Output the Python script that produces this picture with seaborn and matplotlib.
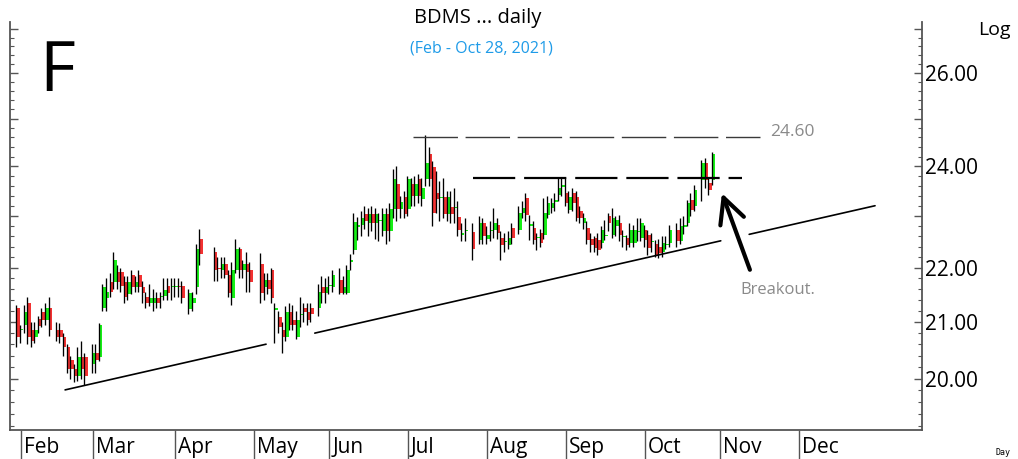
import numpy as np
import pandas as pd
import matplotlib
matplotlib.use('Agg')
import matplotlib.pyplot as plt
import matplotlib.transforms as mtransforms
import seaborn as sns

sns.set_style('white')
plt.rcParams['font.family'] = ['Open Sans', 'DejaVu Sans']
plt.rcParams['text.color'] = 'black'
plt.rcParams['ytick.labelcolor'] = 'black'

# SET holidays between Jan 29 and Oct 28, 2021 (empty weekday slots on the chart)
holidays = ['2021-02-12', '2021-02-26', '2021-04-06', '2021-04-13', '2021-04-14',
            '2021-04-15', '2021-05-03', '2021-05-04', '2021-05-26', '2021-06-03',
            '2021-07-26', '2021-07-28', '2021-08-12', '2021-10-13', '2021-10-22']

opens = [21.26, 20.85, 20.95, 21.35, 20.86, 20.73, 21.05, 21.17, 21.04, 21.26,
         20.86, 20.86, 20.73, 20.55, 20.33, 20.16, 20.04, 20.37, 20.37,
         # Mar
         20.25, 20.45, 20.37, 21.26, 21.44, 21.73, 21.73, 21.92, 21.92, 21.73,
         21.50, 21.86, 21.64, 21.86, 21.64, 21.46, 21.35, 21.35, 21.44, 21.45,
         21.48, 21.66, 21.64,
         # Apr
         21.64, 21.64, 21.66, 21.23, 21.35, 21.64, 22.55, 22.29, 22.00, 21.96,
         22.06, 21.86, 21.44, 21.96, 22.36, 21.96, 22.06, 21.96,
         # May
         22.06, 21.64, 21.77, 21.96, 21.22, 21.08, 20.86, 20.73, 21.17, 21.04,
         20.73, 21.13, 21.26, 21.17, 21.26, 21.26, 21.64, 21.53,
         # Jun
         21.66, 21.64, 21.77, 21.53, 21.53, 22.10, 22.34, 22.78, 22.82, 23.04,
         22.85, 23.04, 22.85, 22.90, 22.70, 23.04, 22.70, 23.13, 23.63, 23.13,
         23.38,
         # Jul
         23.13, 23.63, 23.40, 23.73, 23.33, 23.73, 24.25, 23.98, 23.45, 23.35,
         23.37, 23.04, 23.17, 23.15, 22.98, 22.63, 22.70, 22.68, 22.53, 22.85,
         # Aug
         22.55, 22.70, 22.72, 22.82, 22.57, 22.48, 22.43, 22.76, 22.72, 23.06,
         23.36, 22.80, 22.76, 22.56, 22.67, 22.63, 23.02, 23.16, 23.28, 23.42,
         23.58,
         # Sep
         23.46, 23.12, 23.46, 23.38, 23.10, 22.86, 22.76, 22.55, 22.57, 22.53,
         22.47, 22.60, 23.00, 22.63, 22.80, 22.86, 22.58, 22.57, 22.47, 22.47,
         22.68, 22.57,
         # Oct
         22.72, 22.63, 22.48, 22.45, 22.40, 22.30, 22.44, 22.47, 22.72, 22.50,
         22.78, 22.86, 23.32, 23.20, 23.72, 24.07, 23.66, 23.72]

highs = [21.30, 20.95, 21.30, 21.45, 21.00, 21.00, 21.10, 21.25, 21.35, 21.45,
         21.00, 20.98, 20.80, 20.60, 20.40, 20.25, 20.55, 20.65, 20.45,
         20.60, 20.60, 20.98, 21.70, 21.80, 21.90, 22.30, 22.05, 22.00, 21.85,
         21.85, 21.95, 21.85, 21.95, 21.75, 21.55, 21.70, 21.60, 21.55, 21.55,
         21.80, 21.80, 21.80,
         21.80, 21.80, 21.75, 21.60, 21.55, 22.45, 22.75, 22.40, 22.20, 22.20,
         22.20, 21.95, 22.10, 22.55, 22.40, 22.15, 22.30, 22.10,
         22.27, 21.90, 21.90, 22.00, 21.35, 21.20, 21.00, 21.28, 21.35, 21.30,
         21.20, 21.45, 21.35, 21.35, 21.35, 21.70, 21.85, 21.80,
         21.85, 21.95, 22.00, 21.85, 22.05, 22.25, 23.05, 22.98, 23.10, 23.20,
         23.15, 23.20, 23.15, 23.05, 23.15, 23.15, 23.25, 23.95, 24.00, 23.40,
         23.50,
         23.80, 23.75, 23.80, 23.85, 23.75, 24.65, 24.40, 24.10, 23.90, 23.70,
         23.75, 23.50, 23.50, 23.55, 23.30, 22.85, 22.95, 22.85, 23.00, 22.95,
         22.80, 22.90, 23.16, 22.95, 22.70, 22.67, 22.70, 22.86, 23.20, 23.30,
         23.45, 23.02, 22.90, 22.67, 22.75, 23.36, 23.40, 23.36, 23.46, 23.76,
         23.78,
         23.76, 23.50, 23.56, 23.50, 23.20, 23.06, 22.90, 22.67, 22.60, 22.67,
         22.80, 22.92, 23.06, 23.16, 23.00, 23.02, 22.72, 22.63, 22.86, 22.82,
         22.96, 22.96,
         22.82, 22.72, 22.67, 22.53, 22.55, 22.60, 22.60, 22.82, 22.86, 22.96,
         23.00, 23.32, 23.46, 23.62, 24.12, 24.17, 23.76, 24.30]

lows = [20.55, 20.62, 20.80, 20.60, 20.55, 20.62, 20.80, 20.90, 20.95, 20.75,
        20.65, 20.62, 20.40, 20.10, 20.00, 19.95, 19.97, 20.00, 19.90,
        20.10, 20.10, 20.30, 21.20, 21.20, 21.45, 21.60, 21.60, 21.55, 21.35,
        21.40, 21.50, 21.55, 21.55, 21.35, 21.25, 21.28, 21.20, 21.25, 21.25,
        21.40, 21.40, 21.40,
        21.45, 21.45, 21.35, 21.15, 21.20, 21.50, 22.05, 21.75, 21.75, 21.80,
        21.80, 21.45, 21.30, 21.90, 21.80, 21.80, 21.55, 21.55,
        21.35, 21.40, 21.50, 21.35, 20.62, 20.80, 20.45, 20.65, 20.85, 20.85,
        20.70, 20.90, 21.00, 20.95, 21.00, 21.10, 21.35, 21.35,
        21.50, 21.55, 21.50, 21.50, 21.50, 21.95, 22.25, 22.53, 22.60, 22.75,
        22.60, 22.70, 22.55, 22.50, 22.60, 22.45, 22.50, 22.95, 22.90, 22.95,
        22.95,
        23.00, 23.20, 23.20, 23.25, 23.20, 23.60, 23.60, 22.80, 23.05, 22.90,
        22.95, 22.90, 22.85, 22.85, 22.60, 22.50, 22.50, 22.15, 22.45, 22.45,
        22.45, 22.50, 22.57, 22.55, 22.15, 22.30, 22.35, 22.45, 22.65, 22.95,
        22.90, 22.53, 22.45, 22.34, 22.40, 22.55, 22.95, 23.06, 23.10, 23.30,
        23.40,
        23.20, 23.06, 23.10, 22.90, 22.85, 22.75, 22.45, 22.30, 22.30, 22.24,
        22.38, 22.53, 22.70, 22.57, 22.60, 22.50, 22.40, 22.34, 22.40, 22.40,
        22.50, 22.50,
        22.40, 22.24, 22.30, 22.20, 22.18, 22.20, 22.35, 22.40, 22.40, 22.45,
        22.65, 22.80, 23.00, 23.10, 23.30, 23.56, 23.42, 23.62]

closes = [20.73, 20.88, 21.17, 20.73, 20.65, 20.86, 20.93, 21.04, 21.26, 20.86,
          20.73, 20.73, 20.55, 20.16, 20.16, 20.04, 20.37, 20.16, 20.04,
          20.45, 20.33, 20.95, 21.64, 21.55, 21.55, 22.15, 21.73, 21.66, 21.45,
          21.73, 21.64, 21.73, 21.64, 21.53, 21.35, 21.44, 21.44, 21.35, 21.46,
          21.59, 21.53, 21.65,
          21.65, 21.63, 21.44, 21.53, 21.44, 22.36, 22.25, 21.96, 21.98, 22.06,
          21.86, 21.53, 21.96, 22.36, 21.96, 22.06, 21.92, 21.73,
          21.53, 21.77, 21.60, 21.44, 21.26, 20.91, 20.73, 21.17, 20.95, 20.95,
          21.04, 21.15, 21.17, 21.04, 21.15, 21.55, 21.53, 21.64,
          21.68, 21.86, 21.53, 21.64, 21.96, 22.15, 22.87, 22.82, 22.96, 22.90,
          23.04, 22.85, 23.04, 22.92, 23.04, 22.70, 23.13, 23.73, 23.13, 23.27,
          23.04,
          23.73, 23.40, 23.63, 23.40, 23.55, 24.06, 23.73, 23.05, 23.33, 23.37,
          23.04, 23.37, 23.04, 23.17, 22.73, 22.66, 22.72, 22.35, 22.85, 22.60,
          22.63, 22.73, 22.86, 22.67, 22.43, 22.50, 22.57, 22.57, 23.06, 23.16,
          23.02, 22.83, 22.53, 22.58, 22.47, 23.06, 23.26, 23.26, 23.31, 23.56,
          23.61,
          23.26, 23.38, 23.26, 22.96, 22.96, 22.96, 22.53, 22.43, 22.38, 22.34,
          22.72, 22.63, 22.86, 22.96, 22.92, 22.63, 22.61, 22.43, 22.72, 22.72,
          22.71, 22.86,
          22.53, 22.38, 22.51, 22.24, 22.28, 22.47, 22.46, 22.72, 22.50, 22.80,
          22.81, 23.26, 23.12, 23.52, 24.07, 23.72, 23.52, 24.25]

month_labels = ['Feb', 'Mar', 'Apr', 'May', 'Jun', 'Jul', 'Aug', 'Sep', 'Oct', 'Nov', 'Dec']
price_ticks = [20, 21, 22, 23, 24, 25, 26, 27]
price_labels = ['20.00', '21.00', '22.00', '', '24.00', '', '26.00', '']

# annotation lines (weekday slot, price)
trend_start = (12.3, 19.81)
trend_end = (238.2, 23.20)
trend_gaps = [(68.9, 81.4), (195.6, 202.8)]
top_level = 24.60
top_span = (109.3, 206.1)
neck_level = 23.76
neck_span = (126.1, 201.1)

# weekday slots: Feb 1 = 0, holidays stay empty
weekdays = pd.bdate_range('2021-01-29', '2021-12-31')
slot = pd.Series(np.arange(len(weekdays)) - 1, index=weekdays)
trade_days = weekdays[(weekdays <= '2021-10-28') & ~weekdays.isin(pd.to_datetime(holidays))]
df = pd.DataFrame({'date': trade_days, 'open': opens, 'high': highs,
                   'low': lows, 'close': closes})
df['x'] = slot[df['date']].values
df['up'] = df['close'] >= df['open']

month_starts = [weekdays[weekdays.month == m][0] for m in range(2, 13)]
month_x = slot[month_starts].values

fig = plt.figure(figsize=(10.18, 4.59), dpi=100)
ax = fig.add_axes([10 / 1018, 29 / 459, 912 / 1018, 408 / 459])
ax.set_yscale('log')

# candles: colored body, black wick along the left edge
for up, color in [(True, '#16F016'), (False, '#F23232')]:
    d = df[df['up'] == up]
    bottom = d[['open', 'close']].min(axis=1)
    height = (d['close'] - d['open']).abs().clip(lower=0.02)
    ax.bar(d['x'] + 0.22, height, bottom=bottom, width=0.92, color=color,
           linewidth=0, zorder=2)
ax.vlines(df['x'] - 0.3, df['low'], df['high'], color='black', lw=0.95, zorder=3)

# rising trend line (straight in log space), broken where it meets bars / arrow
xs = np.linspace(trend_start[0], trend_end[0], 400)
lp = np.interp(xs, [trend_start[0], trend_end[0]], np.log([trend_start[1], trend_end[1]]))
seg = np.zeros(len(xs), dtype=int)
keep = np.ones(len(xs), dtype=bool)
for g0, g1 in trend_gaps:
    keep &= ~((xs > g0) & (xs < g1))
    seg += (xs >= g1).astype(int)
trend = pd.DataFrame({'x': xs, 'price': np.exp(lp), 'seg': seg})[keep]
sns.lineplot(data=trend, x='x', y='price', units='seg', estimator=None,
             color='black', lw=1.2, ax=ax, zorder=4)

ax.plot(top_span, [top_level, top_level], color='#3a3a3a', lw=1.0,
        ls=(0, (32, 5.5)), zorder=4)
ax.plot(neck_span, [neck_level, neck_level], color='black', lw=1.6,
        ls=(0, (19, 4)), zorder=4)

ax.text(top_span[1] + 2.8, 24.72, '24.60', color='#8a8a8a', fontsize=12.5, va='center')
ax.annotate('', xy=(195.5, 23.45), xytext=(203.3, 21.96),
            arrowprops=dict(arrowstyle='->,head_length=0.9,head_width=0.45',
                            lw=3, color='black', mutation_scale=20,
                            shrinkA=0, shrinkB=0))
ax.text(200.6, 21.58, 'Breakout.', color='#8a8a8a', fontsize=12, va='center')

ax.set_xlim(-3.07, 251.3)
ax.set_ylim(19.14, 27.16)
ax.set_xlabel('')
ax.set_ylabel('')

ax.yaxis.set_major_locator(matplotlib.ticker.FixedLocator(price_ticks))
ax.yaxis.set_major_formatter(matplotlib.ticker.FixedFormatter(price_labels))
minor = [round(v, 1) for v in np.arange(19.2, 27.2, 0.2) if abs(v - round(v)) > 0.05]
ax.yaxis.set_minor_locator(matplotlib.ticker.FixedLocator(minor))
ax.yaxis.set_minor_formatter(matplotlib.ticker.NullFormatter())
ax.tick_params(axis='y', which='both', left=True, right=True, labelleft=False,
               labelright=True, direction='in', color='#555555')
ax.tick_params(axis='y', which='major', length=6, width=1, pad=2, labelsize=15)
ax.tick_params(axis='y', which='minor', length=3, width=0.8)

ax.set_xticks(month_x)
ax.set_xticklabels([])
ax.tick_params(axis='x', which='major', direction='out', length=22, width=1,
               color='#555555', bottom=True)
trans = mtransforms.blended_transform_factory(ax.transData, ax.transAxes)
for mx, lab in zip(month_x, month_labels):
    ax.text(mx + 0.8, -0.042, lab, transform=trans, fontsize=15, va='center', ha='left')

for side in ['left', 'right', 'bottom']:
    ax.spines[side].set_color('#555555')
    ax.spines[side].set_linewidth(1.3)
ax.spines['top'].set_visible(False)

fig.text(0.4695, 0.961, 'BDMS ... daily', fontsize=14.5, ha='center', va='center')
fig.text(0.4725, 0.895, '(Feb - Oct 28, 2021)', fontsize=11.5, color='#1E9BE8',
         ha='center', va='center')
fig.text(0.039, 0.84, 'F', fontsize=50, ha='left', va='center')
fig.text(0.977, 0.935, 'Log', fontsize=14, ha='center', va='center')
fig.text(0.985, 0.015, 'Day', fontsize=6, ha='center', va='center',
         family='DejaVu Sans Mono')

fig.savefig('out.png', dpi=100)
